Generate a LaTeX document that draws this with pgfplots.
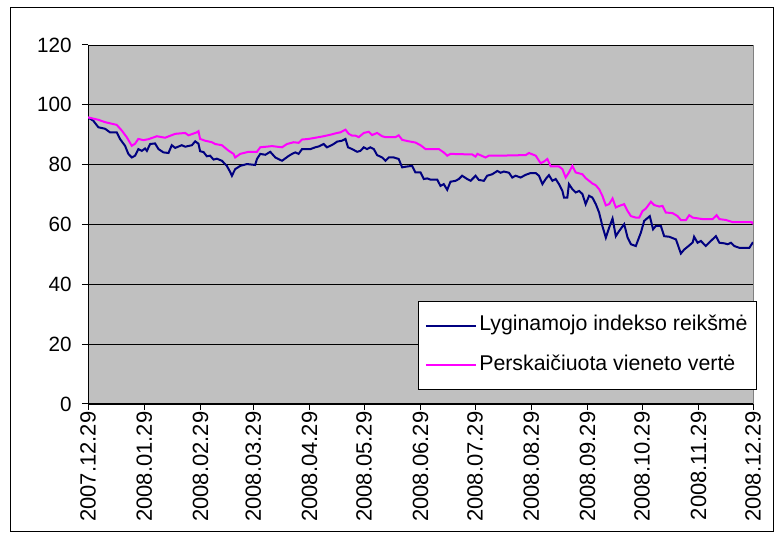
\documentclass[border=0pt]{standalone}
\usepackage{fontspec}
\setmainfont{Liberation Sans}
\usepackage{pgfplots}
\pgfplotsset{compat=1.18}
\definecolor{plotgray}{HTML}{C0C0C0}
\definecolor{navyline}{HTML}{000080}
\definecolor{magline}{HTML}{FF00FF}
\begin{document}
\fontsize{15.5}{18}\selectfont
\begin{tikzpicture}
\path (0pt,0pt) rectangle (587.25pt,405.75pt);
\draw[black, line width=0.75pt] (7.5pt,6.75pt) rectangle (579.75pt,399.75pt);
\begin{axis}[
  at={(66pt,102.75pt)}, anchor=south west,
  scale only axis, width=498.75pt, height=269.25pt,
  xmin=0, xmax=366, ymin=0, ymax=120,
  axis background/.style={fill=plotgray, draw=gray},
  axis x line*=bottom, axis y line*=left,
  axis line style={black, line width=0.75pt, -},
  tick align=outside, major tick length=4.5pt,
  tick style={black, line width=0.75pt},
  ytick={0,20,40,60,80,100,120},
  xtick={0,31,62,91,122,152,183,213,244,275,305,336,366},
  xticklabels={2007.12.29,2008.01.29,2008.02.29,2008.03.29,2008.04.29,2008.05.29,2008.06.29,2008.07.29,2008.08.29,2008.09.29,2008.10.29,2008.11.29,2008.12.29},
  xticklabel style={rotate=90, anchor=east, inner xsep=1pt, font=\fontsize{16.5}{19}\selectfont},
  yticklabel style={xshift=-2.5pt, font=\fontsize{15.5}{18}\selectfont},
  /pgf/number format/assume math mode=true,
  ymajorgrids, xmajorgrids=false,
  major grid style={black, line width=0.6pt},
  legend cell align=left,
  legend style={at={(0.496,0.287)}, anchor=north west, draw=black, line width=0.75pt, fill=white,
    font=\fontsize{16}{18}\selectfont, inner xsep=5pt, inner ysep=9pt, row sep=11pt,
    nodes={inner sep=2pt, text height=11pt, text depth=3.5pt}},
  legend image code/.code={\draw[#1, line width=1.2pt] (0pt,0pt) -- (37.5pt,0pt);},
]
\addplot[navyline, line width=1.5pt] coordinates {
(0,95.8) (2.9,94.7) (5.7,92.5) (9.4,92.0) (12.1,90.8) (15.8,90.8) (17.6,88.6) (20.4,86.3) (22.2,83.6) (24.1,82.4) (25.9,83.0) (27.7,85.2) (29.6,84.6) (31.4,85.4) (32.4,84.6) (34.2,86.9) (36.9,87.1) (38.8,85.2) (41.5,84.1) (44.3,83.9) (46.1,86.5) (48.0,85.6) (51.6,86.5) (53.5,86.0) (57.2,86.5) (59.0,87.8) (60.8,87.0) (61.7,84.5) (63.6,84.2) (65.4,82.8) (67.2,83.0) (69.1,81.7) (70.9,82.0) (73.7,81.3) (76.4,79.6) (78.3,77.5) (79.2,76.3) (81.0,78.5) (83.8,79.6) (87.5,80.2) (92.0,79.9) (93.0,81.9) (94.8,83.6) (97.6,83.3) (100.3,84.3) (103.1,82.4) (106.8,81.3) (108.6,82.1) (110.4,82.9) (112.3,83.6) (114.1,84.1) (115.9,83.6) (117.8,85.2) (122.4,85.2) (125.1,85.8) (127.0,86.1) (129.7,86.9) (131.5,85.8) (133.4,86.3) (135.2,86.9) (137.1,87.7) (139.8,88.0) (141.7,88.6) (143.1,85.8) (145.4,85.2) (148.1,84.3) (149.9,84.6) (151.8,85.8) (153.6,85.2) (155.4,85.8) (157.3,85.2) (159.1,83.2) (161.9,82.4) (163.7,81.3) (165.5,82.4) (168.3,82.4) (171.0,81.9) (172.9,79.1) (174.7,79.3) (178.4,79.6) (180.2,77.4) (183.0,77.4) (184.8,75.2) (186.7,75.4) (188.5,75.0) (192.2,75.0) (194.0,72.9) (195.8,73.5) (197.7,71.6) (199.5,74.3) (202.3,74.6) (204.1,75.2) (205.9,76.3) (208.7,75.2) (210.6,74.6) (213.3,76.3) (215.1,74.9) (217.9,74.6) (219.7,76.3) (222.5,76.8) (225.3,77.9) (227.1,77.3) (228.9,77.7) (231.7,77.3) (233.5,75.7) (235.4,76.3) (238.1,75.7) (240.9,76.6) (243.6,77.2) (246.4,77.2) (248.2,76.3) (250.1,73.5) (251.9,75.2) (253.7,76.5) (255.6,74.6) (257.4,75.2) (259.2,73.5) (261.1,71.2) (262.0,69.0) (263.8,69.0) (264.7,73.5) (266.6,71.8) (268.4,70.7) (270.3,71.2) (272.1,70.2) (273.9,66.8) (275.8,69.6) (277.6,69.0) (279.5,66.8) (281.3,64.0) (283.1,59.5) (285.0,55.6) (286.8,58.9) (288.7,62.0) (290.5,56.1) (292.3,57.8) (295.1,60.1) (297.0,55.6) (298.8,53.4) (301.5,52.8) (304.3,57.3) (306.1,61.2) (309.2,62.8) (311.0,58.4) (312.5,59.5) (315.3,59.5) (317.1,56.1) (319.9,55.9) (323.6,55.0) (326.3,50.3) (328.1,51.6) (330.9,53.0) (332.8,54.0) (333.6,55.9) (335.5,53.9) (337.3,54.5) (340.0,52.8) (342.8,54.5) (345.6,56.1) (347.5,53.9) (350.2,53.7) (352.1,53.4) (353.9,53.9) (355.7,52.8) (358.5,52.2) (364.0,52.2) (366,54.1)
};
\addlegendentry{Lyginamojo indekso reikšmė}
\addplot[magline, line width=1.5pt] coordinates {
(0,95.8) (5.7,95.0) (9.4,94.2) (15.8,93.3) (18.6,91.4) (21.3,89.2) (24.1,86.3) (25.9,87.0) (27.7,88.6) (30.5,88.2) (33.2,88.5) (37.9,89.5) (42.4,89.0) (48.0,90.3) (53.5,90.6) (55.3,89.8) (59.9,90.8) (60.8,91.2) (61.7,88.6) (64.5,88.0) (68.2,87.5) (70.0,86.9) (73.7,86.5) (77.3,84.7) (80.1,83.6) (81.0,82.4) (83.8,83.6) (88.4,84.3) (93.0,84.3) (94.8,85.8) (101.3,86.2) (106.8,85.8) (109.5,86.9) (113.2,87.5) (115.9,87.3) (117.8,88.4) (121.4,88.6) (123.3,88.8) (127.0,89.2) (129.7,89.5) (133.4,90.0) (137.1,90.6) (138.9,90.8) (141.7,91.7) (143.5,90.3) (145.4,89.7) (147.2,89.7) (149.0,89.2) (151.8,90.6) (154.5,91.0) (156.4,89.9) (159.1,90.6) (161.9,89.5) (163.7,89.2) (169.2,89.2) (171.0,89.8) (172.9,88.3) (176.5,87.8) (180.2,87.4) (183.0,86.5) (185.8,85.2) (193.1,85.2) (195.8,84.1) (197.7,83.0) (199.5,83.6) (211.5,83.4) (213.3,82.7) (214.3,83.6) (218.8,82.4) (220.6,83.0) (226.1,83.0) (240.9,83.2) (242.7,83.9) (246.4,83.0) (249.1,80.5) (250.9,81.0) (252.8,81.9) (254.7,79.4) (259.2,79.4) (261.1,78.5) (262.9,75.7) (264.7,77.4) (266.6,79.6) (268.4,77.4) (272.1,76.8) (273.9,75.5) (275.8,74.6) (277.6,73.7) (279.5,73.1) (281.3,71.8) (283.1,69.6) (285.0,66.4) (286.8,66.8) (288.7,68.7) (290.5,65.7) (292.3,66.2) (295.1,66.8) (297.0,64.5) (298.8,62.8) (301.5,62.3) (303.4,62.3) (305.2,64.5) (307.0,65.3) (309.8,67.6) (311.6,66.5) (314.4,66.0) (316.2,66.2) (318.0,64.0) (321.7,63.8) (324.5,62.8) (326.3,61.5) (329.1,61.5) (330.9,63.1) (332.8,62.3) (338.3,61.8) (343.8,61.8) (346.0,63.1) (347.5,61.8) (351.1,61.5) (354.8,60.8) (364.9,60.8) (365.8,60.4) (366,61.0)
};
\addlegendentry{Perskaičiuota vieneto vertė}
\end{axis}
\end{tikzpicture}
\end{document}
